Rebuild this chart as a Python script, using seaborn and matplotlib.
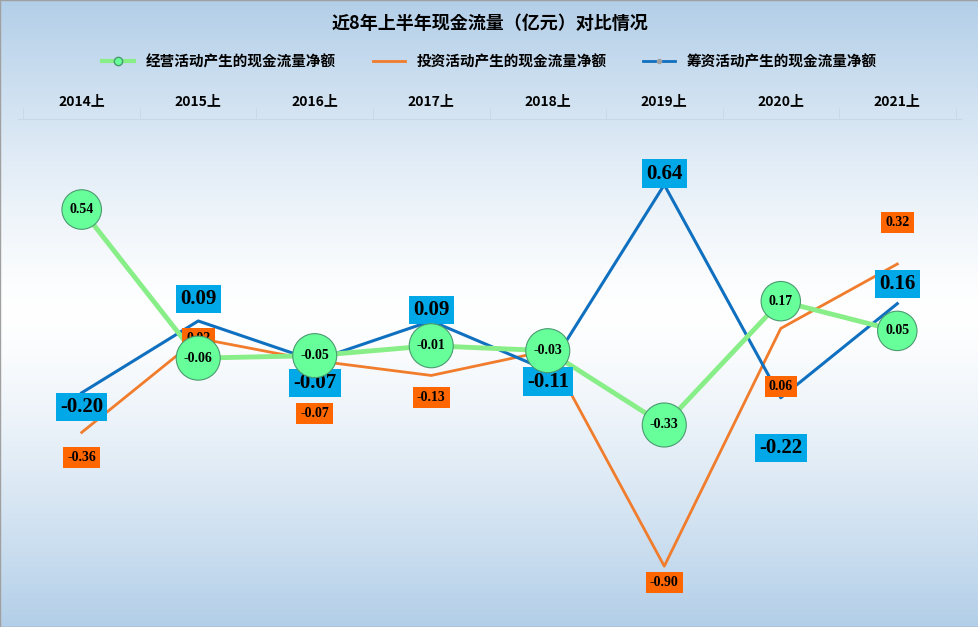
import numpy as np
import matplotlib
matplotlib.use("Agg")
import matplotlib.pyplot as plt
import seaborn as sns
import pandas as pd

periods = ["2014上", "2015上", "2016上", "2017上", "2018上", "2019上", "2020上", "2021上"]
operating = [0.54, -0.06, -0.05, -0.01, -0.03, -0.33, 0.17, 0.05]
investing = [-0.36, 0.02, -0.07, -0.13, -0.03, -0.90, 0.06, 0.32]
financing = [-0.20, 0.09, -0.07, 0.09, -0.11, 0.64, -0.22, 0.16]
names = ["经营活动产生的现金流量净额", "投资活动产生的现金流量净额", "筹资活动产生的现金流量净额"]

# label offsets (points)
inv_off = [-18, 0, -38, -16, 0, -12, -42, 30]
fin_off = [-10, 16, -16, 8, -8, 8, -36, 14]

cjk = ["Noto Sans CJK SC", "Noto Sans CJK JP", "Noto Sans CJK TC", "DejaVu Sans"]
plt.rcParams["font.family"] = cjk
serif = "Liberation Serif"

fig = plt.figure(figsize=(9.79, 6.27), dpi=100)
bg = fig.add_axes([0, 0, 1, 1])
g = np.abs(np.linspace(-1, 1, 300)) ** 1.3
top = np.array([0.70, 0.81, 0.91]); mid = np.array([1.0, 1.0, 1.0])
img = mid[None, :] * (1 - g[:, None]) + top[None, :] * g[:, None]
bg.imshow(img[:, None, :], aspect="auto", extent=[0, 1, 0, 1])
bg.axis("off")

ax = fig.add_axes([0.018, 0.02, 0.964, 0.79])
ax.patch.set_alpha(0)
x = np.arange(len(periods))
df = pd.DataFrame({"p": x, names[0]: operating, names[1]: investing, names[2]: financing})
sns.lineplot(data=df, x="p", y=names[1], ax=ax, color="#f07c2c", lw=2, label=names[1])
sns.lineplot(data=df, x="p", y=names[2], ax=ax, color="#1070c0", lw=2.2, label=names[2])
sns.lineplot(data=df, x="p", y=names[0], ax=ax, color="#88ee88", lw=3.5, label=names[0], zorder=3)
ax.legend_.remove()

for i in range(len(x)):
    ax.annotate(f"{investing[i]:.2f}", (x[i], investing[i]), xytext=(0, inv_off[i]), textcoords="offset points",
                ha="center", va="center", fontsize=10, fontweight="bold", family=serif, annotation_clip=False,
                bbox=dict(boxstyle="square,pad=0.3", fc="#ff6600", ec="none"), zorder=5)
    ax.annotate(f"{financing[i]:.2f}", (x[i], financing[i]), xytext=(0, fin_off[i]), textcoords="offset points",
                ha="center", va="center", fontsize=15, fontweight="bold", family=serif,
                bbox=dict(boxstyle="square,pad=0.2", fc="#00a8e8", ec="none"), zorder=6)
    ax.annotate(f"{operating[i]:.2f}", (x[i], operating[i]), ha="center", va="center",
                fontsize=10, fontweight="bold", family=serif,
                bbox=dict(boxstyle="circle,pad=0.55", fc="#66ff99", ec="#4a9a70", lw=0.8), zorder=7)

ax.set_xlim(-0.55, 7.55)
ax.set_ylim(-1.095, 0.905)
ax.xaxis.tick_top()
ax.set_xticks(x)
ax.set_xticklabels(periods, fontsize=10, fontweight="bold")
ax.set_xticks(np.arange(-0.5, 8, 1), minor=True)
ax.tick_params(axis="x", which="major", length=0, pad=8)
ax.tick_params(axis="x", which="minor", length=8, color="#c8d8e8", direction="out")
ax.set_yticks([])
ax.set_xlabel(""); ax.set_ylabel("")
for s in ["left", "right", "bottom"]:
    ax.spines[s].set_visible(False)
ax.spines["top"].set_color("#c8d8e8")

fig.text(0.5, 0.963, "近8年上半年现金流量（亿元）对比情况", ha="center", va="center",
         fontsize=13, fontweight="bold")
handles = [plt.Line2D([], [], color="#88ee88", lw=3, marker="o", mfc="#66ff99", mec="#4a9a70", ms=6),
           plt.Line2D([], [], color="#f07c2c", lw=2),
           plt.Line2D([], [], color="#1070c0", lw=2, marker="o", mfc="#a0a0a0", mec="#a0a0a0", ms=3)]
fig.legend(handles, names, loc="center", bbox_to_anchor=(0.5, 0.902), ncol=3, frameon=False,
           prop=dict(weight="bold", size=10.5), handlelength=2.2, columnspacing=2.5)
fig.patches.append(plt.Rectangle((0, 0), 1, 1, transform=fig.transFigure, fill=False, ec="#a0a0a0", lw=1))
fig.savefig("out.png", dpi=100)
